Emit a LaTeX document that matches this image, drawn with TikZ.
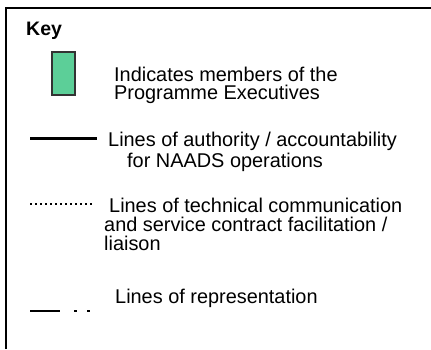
\documentclass[tikz,border=0pt]{standalone}
\usepackage{fontspec}
\setmainfont{Liberation Sans}
\usepackage{tikz}
\usetikzlibrary{positioning}
\definecolor{exec}{HTML}{5CCF98}

\begin{document}
\begin{tikzpicture}[x=1pt,y=-1pt,
    keytext/.style={anchor=base west,inner sep=0pt,font=\fontsize{19.9}{18}\selectfont},
    authority/.style={line width=3pt},
    technical/.style={line width=2pt,dash pattern=on 2pt off 3pt},
    representation/.style={line width=2.5pt,dash pattern=on 30pt off 14pt on 2.5pt off 10.5pt on 2.5pt}]
        \useasboundingbox (0,0) rectangle (431,349);
        \draw[line width=2pt] (6,349) -- (6,8) -- (431,8);

        \path
        (26,35) node[keytext,font=\fontsize{19.5}{18}\selectfont\bfseries](key) {Key}
        (63.5,73.5) node[draw=black!80,line width=1.5pt,fill=exec,minimum width=23pt,minimum height=43pt,inner sep=0pt](member) {}
        (114,81) node[keytext](member1) {Indicates members of the}
        (114,99) node[keytext](member2) {Programme Executives}
        (108,146) node[keytext](auth1) {Lines of authority / accountability}
        (127,167) node[keytext](auth2) {for NAADS operations}
        (109,212) node[keytext](tech1) {Lines of technical communication}
        (104,231) node[keytext](tech2) {and service contract facilitation /}
        (104,250) node[keytext](tech3) {liaison}
        (115,303) node[keytext](repr) {Lines of representation}
        ;

        \coordinate (auths) at (30,138);
        \coordinate (authe) at (97,138);
        \coordinate (techs) at (30,204);
        \coordinate (teche) at (93,204);
        \coordinate (reprs) at (30,311);
        \coordinate (repre) at (90,311);

        \draw[authority] (auths) -- (authe);
        \draw[technical] (techs) -- (teche);
        \draw[representation] (reprs) -- (repre);
      \end{tikzpicture}
\end{document}
